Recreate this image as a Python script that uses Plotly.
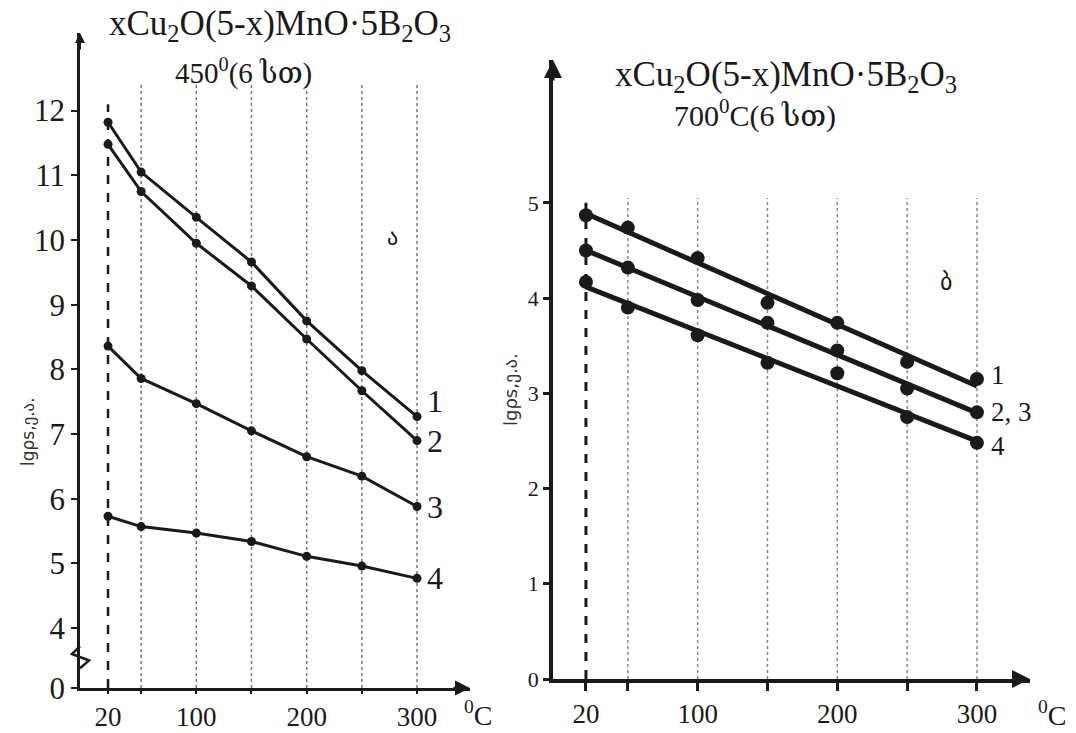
import numpy as np
import plotly.graph_objects as go

# ---------------- data ----------------
temps = [20, 50, 100, 150, 200, 250, 300]
x_tick_vals = [20, 100, 200, 300]

# left panel (a): 450 deg, 6 h
left_1 = [11.82, 11.05, 10.35, 9.66, 8.75, 7.98, 7.27]
left_2 = [11.48, 10.75, 9.95, 9.29, 8.47, 7.67, 6.90]
left_3 = [8.36, 7.86, 7.47, 7.05, 6.65, 6.35, 5.88]
left_4 = [5.73, 5.57, 5.47, 5.34, 5.11, 4.96, 4.77]
left_series = [left_1, left_2, left_3, left_4]
left_labels = ["1", "2", "3", "4"]
left_label_shift = [16, 0, 0, 0]
left_y_ticks = [4, 5, 6, 7, 8, 9, 10, 11, 12]

# right panel (b): 700 deg C, 6 h
right_1 = [4.87, 4.74, 4.42, 3.95, 3.74, 3.33, 3.15]
right_23 = [4.50, 4.32, 3.98, 3.74, 3.45, 3.05, 2.80]
right_4 = [4.17, 3.90, 3.61, 3.32, 3.21, 2.75, 2.48]
right_series = [right_1, right_23, right_4]
right_labels = ["1", "2, 3", "4"]
right_label_shift = [4, 0, -3]
right_y_ticks = [0, 1, 2, 3, 4, 5]

title_formula = "xCu<sub>2</sub>O(5-x)MnO·5B<sub>2</sub>O<sub>3</sub>"
left_sub = "450<sup>0</sup>(6 სთ)"
right_sub = "700<sup>0</sup>C(6 სთ)"
y_label = "lgρs,ე.ა."
panel_a = "ა"
panel_b = "ბ"
unit = "<sup>0</sup>C"

# ---------------- geometry ----------------
W, H = 1076, 733
L_XR = [-5.4, 348]
L_YR = [3.075, 13.2]
L_ZERO = L_YR[0]
R_XR = [-3.6, 338]
R_YR = [0, 6.5]

SERIF = "Liberation Serif, DejaVu Serif, serif"
INK = "#1a1a1a"

fig = go.Figure()

for ys, lab in zip(left_series, left_labels):
    fig.add_trace(go.Scatter(x=temps, y=ys, mode="lines+markers",
                             line=dict(color=INK, width=3),
                             marker=dict(color=INK, size=9),
                             xaxis="x", yaxis="y", name=lab, showlegend=False))

# right panel: straight fitted lines through the measured points, as in the original
t_arr = np.array(temps, dtype=float)
for ys, lab in zip(right_series, right_labels):
    k, b = np.polyfit(t_arr, np.array(ys), 1)
    ends = [temps[0], temps[-1]]
    fig.add_trace(go.Scatter(x=ends, y=[k * e + b for e in ends], mode="lines",
                             line=dict(color=INK, width=5),
                             xaxis="x2", yaxis="y2", hoverinfo="skip", showlegend=False))
    fig.add_trace(go.Scatter(x=temps, y=ys, mode="markers",
                             marker=dict(color=INK, size=14),
                             xaxis="x2", yaxis="y2", name=lab, showlegend=False))

shapes = []
# vertical guide lines
for t in temps:
    if t == temps[0]:
        shapes.append(dict(type="line", xref="x", yref="y", x0=t, x1=t, y0=L_ZERO, y1=12.1,
                           line=dict(color=INK, width=2.5, dash="dash"), layer="below"))
        shapes.append(dict(type="line", xref="x2", yref="y2", x0=t, x1=t, y0=0, y1=5.0,
                           line=dict(color=INK, width=3, dash="dash"), layer="below"))
    else:
        shapes.append(dict(type="line", xref="x", yref="y", x0=t, x1=t, y0=L_ZERO, y1=12.4,
                           line=dict(color="#777", width=1.5, dash="dot"), layer="below"))
        shapes.append(dict(type="line", xref="x2", yref="y2", x0=t, x1=t, y0=0, y1=5.05,
                           line=dict(color="#888", width=1.5, dash="dot"), layer="below"))

# axis-break mark on the left y axis (x in paper units, y in data units)
ax0 = 80 / W
shapes.append(dict(type="path", xref="paper", yref="y",
                   path=(f"M {ax0},3.72 L {ax0 - 8 / W},3.6 L {ax0 + 9 / W},3.5 "
                         f"L {ax0},3.38"),
                   line=dict(color=INK, width=2.5)))

annotations = []
# curve labels
for ys, lab, sh in zip(left_series, left_labels, left_label_shift):
    annotations.append(dict(x=temps[-1], y=ys[-1], xref="x", yref="y", text=lab,
                            showarrow=False, xanchor="left", xshift=8, yshift=sh,
                            font=dict(family=SERIF, size=32, color=INK)))
for ys, lab, sh in zip(right_series, right_labels, right_label_shift):
    annotations.append(dict(x=temps[-1], y=ys[-1], xref="x2", yref="y2", text=lab,
                            showarrow=False, xanchor="left", xshift=12, yshift=sh,
                            font=dict(family=SERIF, size=27, color=INK)))

# axis arrows
annotations += [
    dict(x=L_XR[1], y=L_ZERO, xref="x", yref="y", ax=-18, ay=0, text="", showarrow=True,
         arrowhead=2, arrowsize=1.2, arrowwidth=2.5, arrowcolor=INK),
    dict(x=L_XR[0], y=L_YR[1], xref="x", yref="y", ax=0, ay=18, text="", showarrow=True,
         arrowhead=2, arrowsize=1.0, arrowwidth=2, arrowcolor=INK),
    dict(x=R_XR[1], y=0, xref="x2", yref="y2", ax=-18, ay=0, text="", showarrow=True,
         arrowhead=2, arrowsize=1.2, arrowwidth=3, arrowcolor=INK),
    dict(x=R_XR[0], y=R_YR[1], xref="x2", yref="y2", ax=0, ay=22, text="", showarrow=True,
         arrowhead=2, arrowsize=1.2, arrowwidth=3, arrowcolor=INK),
]

def paper_text(px, py, text, size, family=SERIF, angle=0, color=INK):
    return dict(x=px / W, y=1 - py / H, xref="paper", yref="paper", text=text,
                xanchor="center", yanchor="middle", textangle=angle,
                showarrow=False, font=dict(family=family, size=size, color=color))

annotations += [
    paper_text(280, 26, title_formula, 35),
    paper_text(243, 72, left_sub, 29),
    paper_text(786, 76, title_formula, 35),
    paper_text(755, 114, right_sub, 30),
    paper_text(392, 237, panel_a, 22, family="DejaVu Sans"),
    paper_text(946, 282, panel_b, 24, family="DejaVu Sans"),
    paper_text(28, 432, y_label, 17, family="DejaVu Sans", angle=-90, color="#333"),
    paper_text(510, 390, y_label, 18, family="DejaVu Sans", angle=-90, color="#333"),
    paper_text(478, 713, unit, 28),
    paper_text(1052, 713, unit, 28),
]

axis_common = dict(showline=True, linecolor=INK, showgrid=False, zeroline=False,
                   ticks="outside", tickcolor=INK, automargin=False)

fig.update_layout(
    width=W, height=H, autosize=False,
    margin=dict(l=0, r=0, t=0, b=0, pad=0),
    paper_bgcolor="white", plot_bgcolor="rgba(0,0,0,0)",
    font=dict(family=SERIF, color=INK),
    showlegend=False,
    xaxis=dict(domain=[80 / W, 470 / W], range=L_XR, anchor="y",
               tickmode="array", tickvals=temps,
               ticktext=[str(t) if t in x_tick_vals else "" for t in temps],
               tickfont=dict(family=SERIF, size=27, color=INK),
               ticklen=3, tickwidth=2, linewidth=3, **axis_common),
    yaxis=dict(domain=[1 - 688 / H, 1 - 33 / H], range=L_YR, anchor="x",
               tickmode="array", tickvals=[L_ZERO] + left_y_ticks,
               ticktext=["0"] + [str(v) for v in left_y_ticks],
               tickfont=dict(family=SERIF, size=31, color=INK),
               ticklen=6, tickwidth=2, linewidth=2.5, **axis_common),
    xaxis2=dict(domain=[553 / W, 1030 / W], range=R_XR, anchor="y2",
                tickmode="array", tickvals=temps,
                ticktext=[str(t) if t in x_tick_vals else "" for t in temps],
                tickfont=dict(family=SERIF, size=27, color=INK),
                ticklen=8, tickwidth=3, linewidth=4, **axis_common),
    yaxis2=dict(domain=[1 - 679 / H, 1 - 60 / H], range=R_YR, anchor="x2",
                tickmode="array", tickvals=right_y_ticks,
                ticktext=[str(v) for v in right_y_ticks],
                tickfont=dict(family=SERIF, size=22, color=INK),
                ticklen=6, tickwidth=3, linewidth=3.5, **axis_common),
    shapes=shapes,
    annotations=annotations,
)

fig.write_html("out.html", config={"displayModeBar": False},
               post_script="document.body.style.margin='0';document.body.style.overflow='hidden';")
